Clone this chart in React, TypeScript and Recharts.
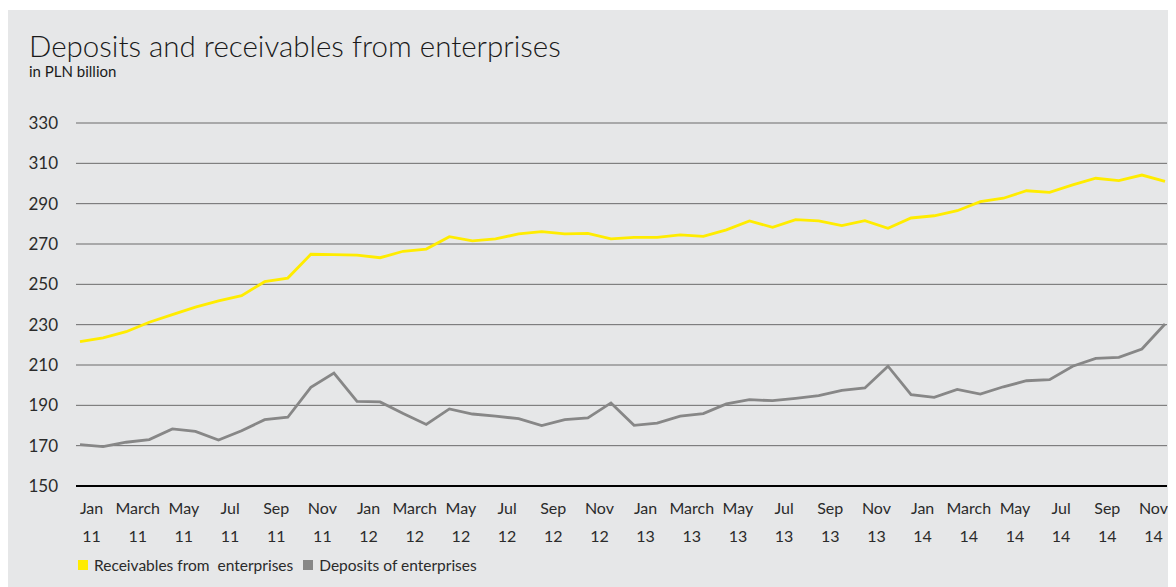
import { CartesianGrid, Line, LineChart, XAxis, YAxis } from "recharts";

// Jan 2011 .. Dec 2014, one point per month
const periods = [
    "Jan 11", "Feb 11", "Mar 11", "Apr 11", "May 11", "Jun 11", "Jul 11", "Aug 11", "Sep 11", "Oct 11", "Nov 11", "Dec 11",
    "Jan 12", "Feb 12", "Mar 12", "Apr 12", "May 12", "Jun 12", "Jul 12", "Aug 12", "Sep 12", "Oct 12", "Nov 12", "Dec 12",
    "Jan 13", "Feb 13", "Mar 13", "Apr 13", "May 13", "Jun 13", "Jul 13", "Aug 13", "Sep 13", "Oct 13", "Nov 13", "Dec 13",
    "Jan 14", "Feb 14", "Mar 14", "Apr 14", "May 14", "Jun 14", "Jul 14", "Aug 14", "Sep 14", "Oct 14", "Nov 14", "Dec 14",
];

const receivables = [
    221.6, 223.5, 226.5, 231.2, 235.0, 238.7, 241.8, 244.4, 251.3, 253.1, 264.9, 264.7,
    264.5, 263.2, 266.4, 267.5, 273.6, 271.6, 272.5, 275.0, 276.1, 275.0, 275.3, 272.5,
    273.3, 273.3, 274.5, 273.8, 277.0, 281.4, 278.3, 282.1, 281.5, 279.1, 281.6, 277.8,
    282.9, 284.0, 286.5, 291.0, 292.7, 296.4, 295.6, 299.3, 302.6, 301.4, 304.2, 301.1,
];

const deposits = [
    170.5, 169.5, 171.7, 173.0, 178.3, 177.1, 172.8, 177.4, 182.9, 184.1, 198.9, 206.0,
    192.0, 191.7, 185.9, 180.5, 188.2, 185.7, 184.6, 183.4, 180.0, 182.9, 183.8, 191.2,
    180.1, 181.2, 184.6, 185.9, 190.7, 192.8, 192.3, 193.5, 194.8, 197.4, 198.6, 209.4,
    195.3, 194.0, 197.9, 195.6, 199.2, 202.2, 202.7, 209.4, 213.3, 213.8, 217.9, 230.3,
];

const tickMonths = ["Jan", "March", "May", "Jul", "Sep", "Nov"];
const tickYears = ["11", "12", "13", "14"];
const yTicks = [150, 170, 190, 210, 230, 250, 270, 290, 310, 330];

const series = [
    { key: "receivables", name: "Receivables from  enterprises", color: "#ffec00" },
    { key: "deposits", name: "Deposits of enterprises", color: "#878787" },
];

const data = periods.map((p, i) => ({ idx: i, period: p, receivables: receivables[i], deposits: deposits[i] }));

// one label per two-month pair, placed between the two months
const labelTicks = tickYears.flatMap((_, y) => tickMonths.map((_, m) => (y * 6 + m) * 2 + 0.5));

function MonthTick(props: any) {
    const { x, y, payload } = props;
    const g = Math.floor(payload.value / 2);
    return (
        <g>
            <text x={x} y={y + 28} textAnchor="middle" fill="#2b2b2b" fontSize={16}>{tickMonths[g % 6]}</text>
            <text x={x} y={y + 56} textAnchor="middle" fill="#2b2b2b" fontSize={16}>{tickYears[Math.floor(g / 6)]}</text>
        </g>
    );
}

export default function App() {
    return (
        <div style={{ position: 'relative', width: 1168, height: 580, marginTop: 2, background: '#e6e7e8', fontFamily: 'Lato, sans-serif', overflow: 'hidden' }}>
            <div style={{ position: 'absolute', left: 21, top: 18, fontSize: 29.5, fontWeight: 300, color: '#1a1a1a', whiteSpace: 'nowrap' }}>
                Deposits and receivables from enterprises
            </div>
            <div style={{ position: 'absolute', left: 21, top: 52, fontSize: 15, color: '#1a1a1a' }}>in PLN billion</div>

            <LineChart width={1168} height={540} data={data} margin={{ top: 113, right: 9, bottom: 4, left: 0 }}>
                <CartesianGrid vertical={false} stroke="#6b6b6b" />
                <XAxis
                    dataKey="idx"
                    type="number"
                    domain={[0, 47]}
                    padding={{ left: 4, right: 2 }}
                    ticks={labelTicks}
                    interval={0}
                    height={60}
                    tickSize={0}
                    tickMargin={0}
                    tickLine={false}
                    axisLine={{ stroke: '#000', strokeWidth: 2 }}
                    tick={<MonthTick />}
                />
                <YAxis
                    domain={[150, 330]}
                    ticks={yTicks}
                    width={68}
                    axisLine={false}
                    tickLine={false}
                    tickSize={0}
                    tickMargin={18}
                    tick={{ fill: '#2b2b2b', fontSize: 17 }}
                />
                {series.map(s => (
                    <Line key={s.key} dataKey={s.key} name={s.name} stroke={s.color} strokeWidth={2.8} dot={false} isAnimationActive={false} />
                ))}
            </LineChart>

            <div style={{ position: 'absolute', left: 70, top: 546, display: 'flex', fontSize: 15.5, color: '#2b2b2b', whiteSpace: 'pre' }}>
                {series.map(s => (
                    <div key={s.key} style={{ display: 'flex', alignItems: 'center', marginRight: 10 }}>
                        <div style={{ width: 10, height: 10, background: s.color, marginRight: 6 }}></div>
                        <div>{s.name}</div>
                    </div>
                ))}
            </div>
        </div>
    );
}
